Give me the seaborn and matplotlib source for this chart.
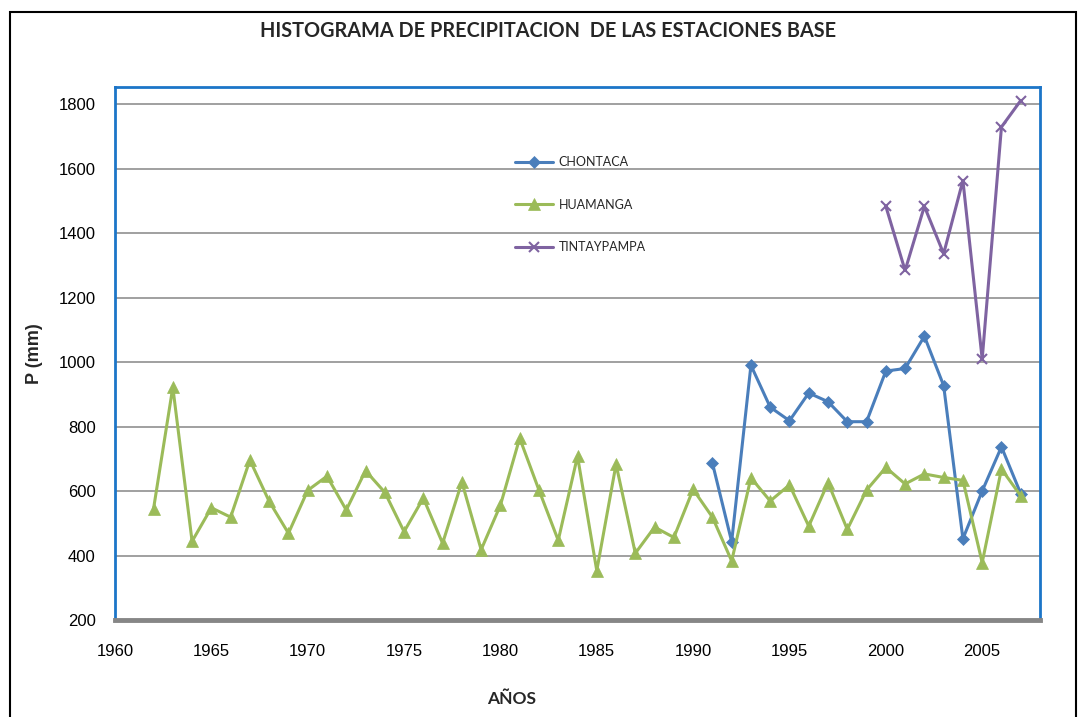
import pandas as pd
import numpy as np
import seaborn as sns
import matplotlib.pyplot as plt
from matplotlib.patches import Rectangle

# Annual precipitation (mm) per station
years_chontaca = [1991, 1992, 1993, 1994, 1995, 1996, 1997, 1998, 1999,
                  2000, 2001, 2002, 2003, 2004, 2005, 2006, 2007]
p_chontaca = [687, 443, 990, 860, 818, 904, 877, 815, 815,
              972, 980, 1080, 927, 452, 600, 737, 592]

years_huamanga = list(range(1962, 2008))
p_huamanga = [545, 922, 444, 548, 519, 696, 568, 469, 602, 646,
              541, 663, 596, 474, 578, 438, 628, 418, 556, 764,
              603, 447, 708, 353, 683, 407, 488, 456, 605, 519,
              383, 641, 569, 619, 491, 626, 481, 603, 673, 622,
              653, 642, 633, 378, 668, 585]

years_tintaypampa = [2000, 2001, 2002, 2003, 2004, 2005, 2006, 2007]
p_tintaypampa = [1483, 1284, 1483, 1336, 1563, 1009, 1729, 1811]

stations = ["CHONTACA", "HUAMANGA", "TINTAYPAMPA"]
colors = {"CHONTACA": "#4A7EBB", "HUAMANGA": "#9BBB59", "TINTAYPAMPA": "#7F63A1"}
markers = {"CHONTACA": "D", "HUAMANGA": "^", "TINTAYPAMPA": "x"}
msizes = {"CHONTACA": 6, "HUAMANGA": 8, "TINTAYPAMPA": 7}

df = pd.concat([
    pd.DataFrame({"year": years_chontaca, "P": p_chontaca, "station": "CHONTACA"}),
    pd.DataFrame({"year": years_huamanga, "P": p_huamanga, "station": "HUAMANGA"}),
    pd.DataFrame({"year": years_tintaypampa, "P": p_tintaypampa, "station": "TINTAYPAMPA"}),
])

sns.set_style("white")
plt.rcParams['font.family'] = ['Liberation Sans', 'DejaVu Sans']

fig = plt.figure(figsize=(10.79, 7.17), dpi=100)
ax = fig.add_axes([115 / 1079, 1 - 620 / 717, 925 / 1079, 533 / 717])

for st in stations:
    sub = df[df["station"] == st]
    sns.lineplot(data=sub, x="year", y="P", ax=ax, color=colors[st],
                 marker=markers[st], markersize=msizes[st], linewidth=2.2,
                 markeredgecolor=colors[st], markeredgewidth=1.5 if st == "TINTAYPAMPA" else 0.5,
                 label=st)

ax.set_xlim(1960, 2008)
ax.set_ylim(200, 1853)
ax.set_xticks(range(1960, 2006, 5))
ax.set_yticks(range(200, 1801, 200))
ax.grid(axis="y", color="#A0A0A0", linewidth=1.4)
ax.grid(axis="x", visible=False)
ax.tick_params(axis="both", length=0, labelsize=12, colors="black")
ax.tick_params(axis="x", pad=17)
ax.tick_params(axis="y", pad=14)

for side in ["left", "top", "right"]:
    ax.spines[side].set_color("#1C75C8")
    ax.spines[side].set_linewidth(2)
ax.spines["bottom"].set_color("#868686")
ax.spines["bottom"].set_linewidth(3.5)

ax.set_xlabel("")
ax.set_ylabel("P (mm)", fontsize=13, fontweight="bold", labelpad=11)

fig.text(548 / 1079, 1 - 31 / 717, "HISTOGRAMA DE PRECIPITACION  DE LAS ESTACIONES BASE",
         ha="center", va="center", fontsize=14.3, fontweight="bold", family=["Lato", "DejaVu Sans"])
fig.text(512 / 1079, 1 - 699 / 717, "AÑOS", ha="center", va="center",
         fontsize=12.5, fontweight="bold", family=["Lato", "DejaVu Sans"])

leg = ax.legend(loc="upper left", bbox_to_anchor=((510 - 115) / 925, (620 - 151) / 533),
                frameon=False, prop={"family": ["Lato", "DejaVu Sans"], "size": 9},
                labelspacing=2.45, handlelength=3.0, handletextpad=0.5, borderaxespad=0)

# outer chart border
fig.add_artist(Rectangle((10 / 1079, -0.05), 1066 / 1079, 1.05 - 12 / 717,
                         transform=fig.transFigure, fill=False, edgecolor="black",
                         linewidth=1.5, clip_on=False))

fig.savefig("out.png", dpi=100)
